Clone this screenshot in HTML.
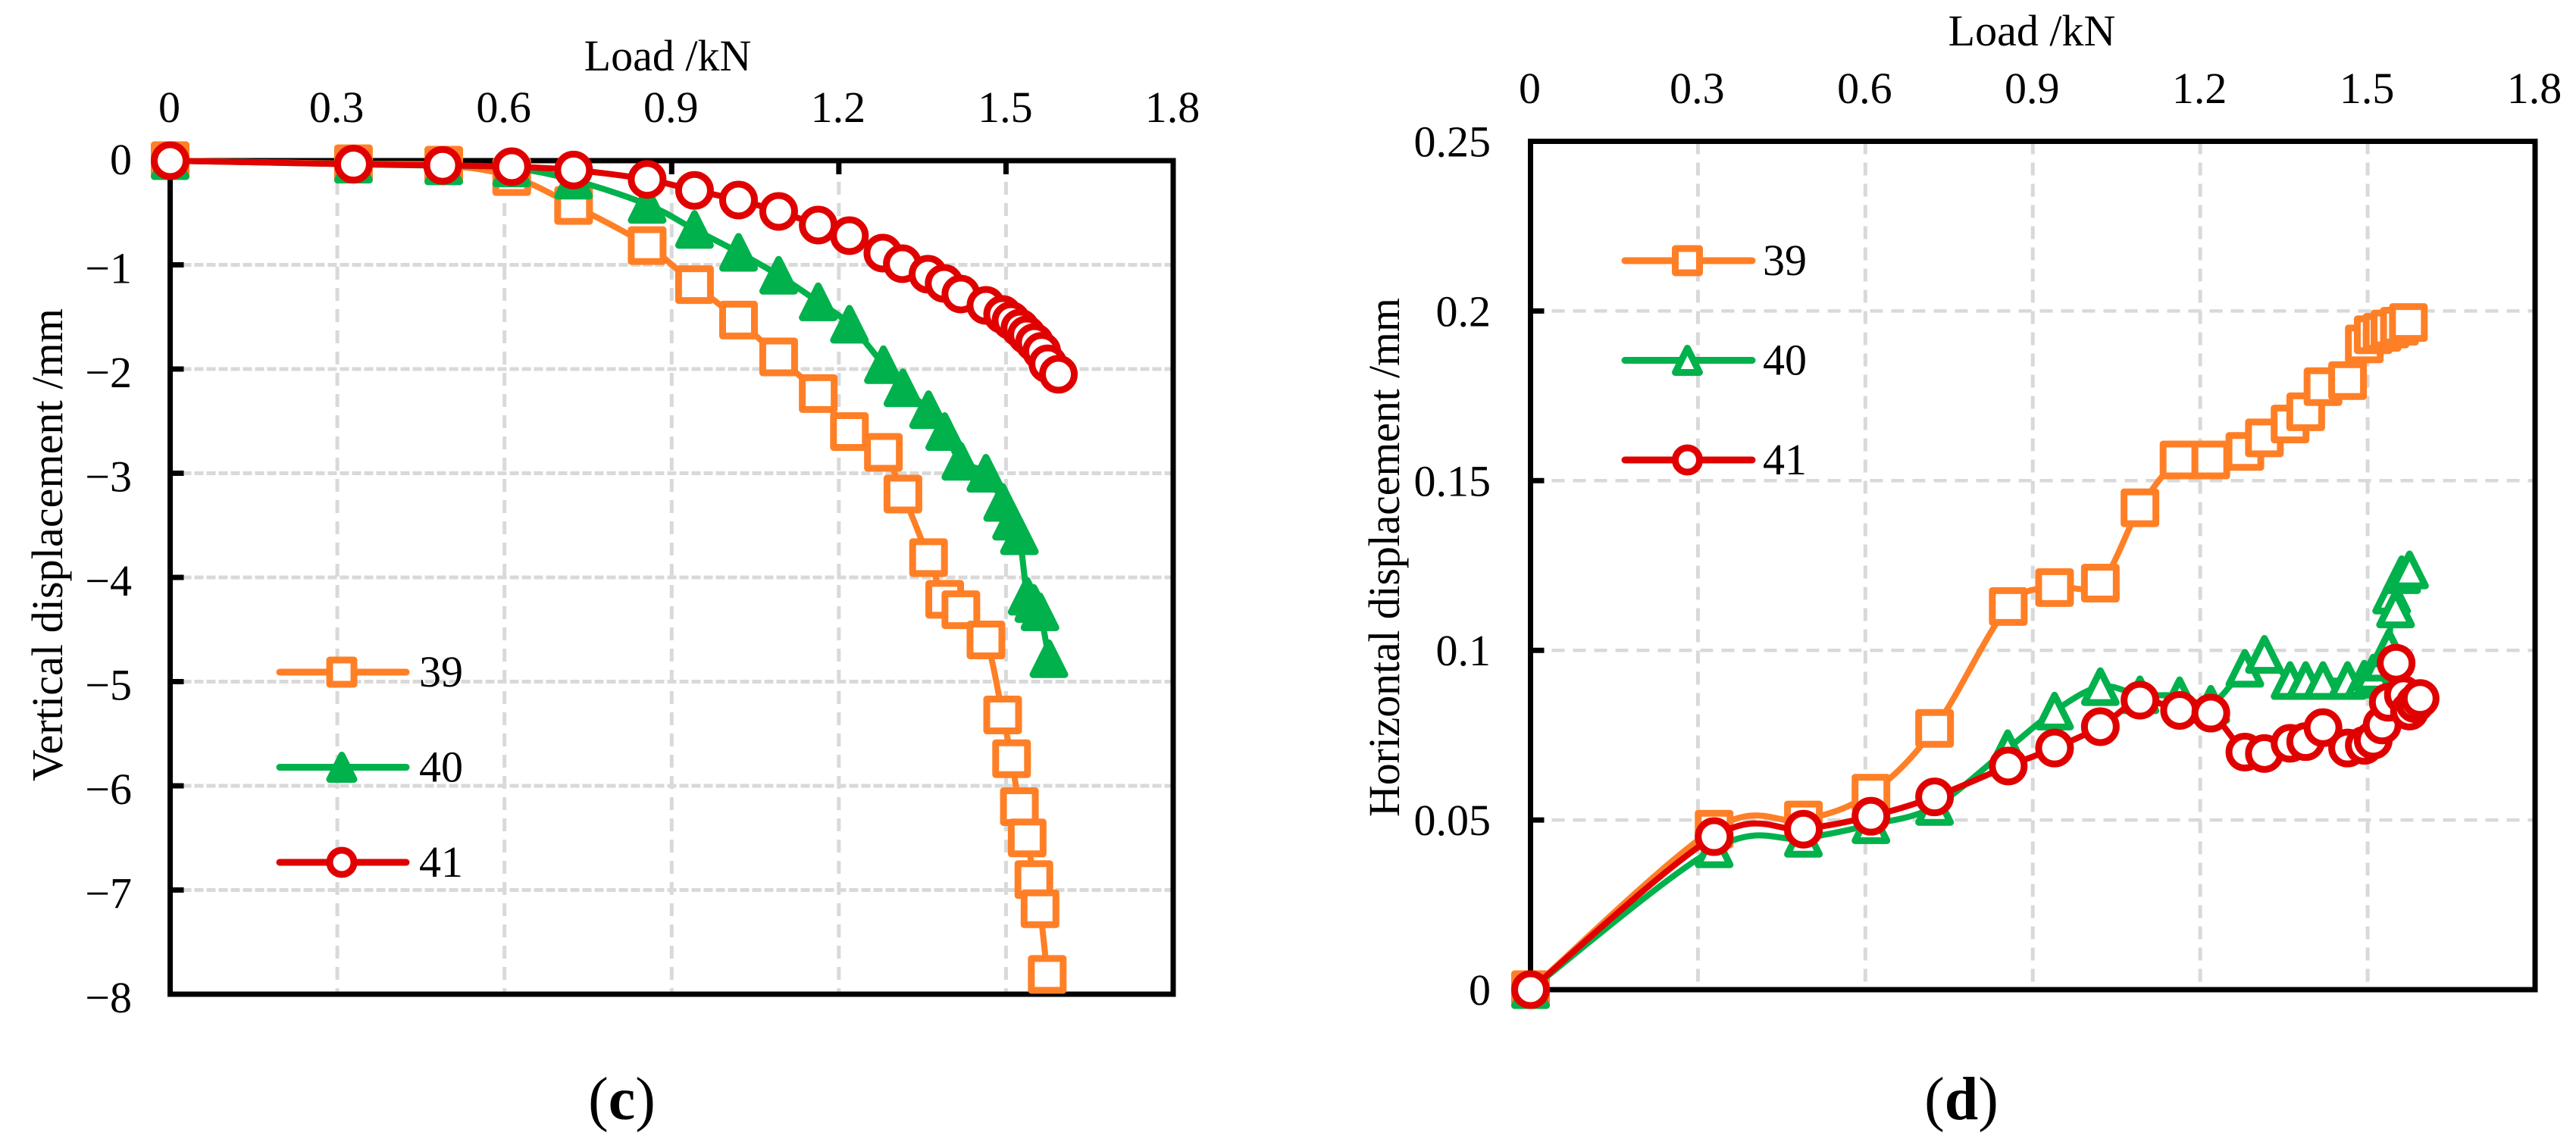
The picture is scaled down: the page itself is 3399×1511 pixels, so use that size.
<!DOCTYPE html>
<html lang="en">
<head>
<meta charset="utf-8">
<title>Load versus displacement charts</title>
<style>
html,body{margin:0;padding:0;background:#fff;}
svg{display:block;}
text{font-family:"Liberation Serif",serif;fill:#000;}
</style>
</head>
<body>
<svg id="figure" xmlns="http://www.w3.org/2000/svg" width="3399" height="1511" viewBox="0 0 3399 1511">
<rect x="0" y="0" width="3399" height="1511" fill="#ffffff"/>
<g id="chart-c"></g>
<g id="chart-d"></g>
</svg>
<script>
// Shared axis data
const loadTicks = [0, 0.3, 0.6, 0.9, 1.2, 1.5, 1.8];
const loadTickLabels = ['0', '0.3', '0.6', '0.9', '1.2', '1.5', '1.8'];
const seriesLabels = ['39', '40', '41'];

// Chart (c) axis
const verticalTicks = [0, -1, -2, -3, -4, -5, -6, -7, -8];
const verticalTickLabels = ['0', '\u22121', '\u22122', '\u22123', '\u22124', '\u22125', '\u22126', '\u22127', '\u22128'];

// Chart (c) series
const cLoad39 = [0, .329, .491, .613, .724, .856, .941, 1.02, 1.092, 1.163, 1.219, 1.28, 1.315, 1.361, 1.39, 1.419, 1.464, 1.494, 1.51, 1.524, 1.538, 1.55, 1.561, 1.574];
const cDisp39 = [0, -.03, -.044, -.153, -.43, -.815, -1.19, -1.53, -1.884, -2.235, -2.6, -2.8, -3.2, -3.81, -4.21, -4.31, -4.6, -5.32, -5.74, -6.2, -6.5, -6.9, -7.18, -7.81];
const cLoad40 = [0, .329, .491, .613, .724, .856, .941, 1.02, 1.092, 1.163, 1.219, 1.28, 1.315, 1.361, 1.39, 1.419, 1.464, 1.494, 1.51, 1.524, 1.538, 1.55, 1.561, 1.577];
const cDisp40 = [0, -.034, -.05, -.07, -.187, -.42, -.66, -.88, -1.1, -1.355, -1.57, -1.958, -2.18, -2.39, -2.6, -2.885, -3, -3.28, -3.46, -3.6, -4.18, -4.25, -4.33, -4.78];
const cLoad41 = [0, .329, .489, .613, .724, .856, .941, 1.02, 1.092, 1.163, 1.219, 1.279, 1.314, 1.36, 1.389, 1.419, 1.464, 1.494, 1.509, 1.525, 1.537, 1.551, 1.564, 1.575, 1.594];
const cDisp41 = [0, -.034, -.045, -.058, -.09, -.18, -.285, -.378, -.487, -.618, -.72, -.887, -.989, -1.09, -1.178, -1.28, -1.389, -1.476, -1.535, -1.607, -1.673, -1.745, -1.83, -1.95, -2.05];

// Chart (d) axis
const horizontalTicks = [0, 0.05, 0.1, 0.15, 0.2, 0.25];
const horizontalTickLabels = ['0', '0.05', '0.1', '0.15', '0.2', '0.25'];

// Chart (d) series
const dLoad39 = [0, .329, .489, .61, .724, .856, .939, 1.021, 1.092, 1.162, 1.219, 1.28, 1.315, 1.361, 1.389, 1.42, 1.464, 1.494, 1.51, 1.526, 1.54, 1.557, 1.573];
const dDisp39 = [0, .0473, .05, .0579, .077, .1129, .1185, .1198, .142, .1561, .1561, .1586, .1626, .1667, .1703, .1777, .1795, .1903, .193, .1937, .1947, .1955, .1966];
const dLoad40 = [0, .329, .489, .61, .724, .855, .939, 1.021, 1.092, 1.163, 1.219, 1.28, 1.315, 1.361, 1.389, 1.42, 1.464, 1.494, 1.51, 1.526, 1.538, 1.543, 1.55, 1.561, 1.575];
const dDisp40 = [0, .0415, .0446, .0486, .054, .071, .0821, .0893, .0869, .0866, .0841, .0947, .0988, .0911, .0911, .0911, .0911, .0915, .0933, .0965, .1007, .1163, .1122, .1223, .1237];
const dLoad41 = [0, .329, .489, .61, .724, .856, .939, 1.021, 1.092, 1.163, 1.219, 1.28, 1.315, 1.361, 1.389, 1.42, 1.464, 1.494, 1.51, 1.526, 1.537, 1.551, 1.564, 1.575, 1.585, 1.594];
const dDisp41 = [0, .0451, .0473, .0511, .0568, .0659, .0712, .0775, .0853, .0823, .0815, .07, .0696, .0726, .0731, .0772, .0712, .072, .0735, .078, .0847, .0962, .0869, .0821, .0843, .0858];

const SVG_NS = 'http://www.w3.org/2000/svg';
const ORANGE = '#FF7F27';
const GREEN = '#00B14C';
const RED = '#E00000';
const GRID = '#D9D9D9';

function make(parent, tag, attrs) {
  const el = document.createElementNS(SVG_NS, tag);
  for (const k in attrs) el.setAttribute(k, attrs[k]);
  parent.appendChild(el);
  return el;
}

function linear(d0, d1, r0, r1) {
  return function (v) { return r0 + (v - d0) * (r1 - r0) / (d1 - d0); };
}

function smoothPath(pts) {
  let d = 'M' + pts[0][0].toFixed(1) + ' ' + pts[0][1].toFixed(1);
  for (let i = 0; i < pts.length - 1; i++) {
    const p0 = pts[Math.max(i - 1, 0)];
    const p1 = pts[i];
    const p2 = pts[i + 1];
    const p3 = pts[Math.min(i + 2, pts.length - 1)];
    const c1x = p1[0] + (p2[0] - p0[0]) / 6;
    const c1y = p1[1] + (p2[1] - p0[1]) / 6;
    const c2x = p2[0] - (p3[0] - p1[0]) / 6;
    const c2y = p2[1] - (p3[1] - p1[1]) / 6;
    d += 'C' + c1x.toFixed(1) + ' ' + c1y.toFixed(1) + ' ' + c2x.toFixed(1) + ' ' + c2y.toFixed(1) + ' ' + p2[0].toFixed(1) + ' ' + p2[1].toFixed(1);
  }
  return d;
}

function drawMarker(parent, shape, cx, cy, size, color, filled) {
  const s = size / 2;
  const fill = filled ? color : '#ffffff';
  let el;
  if (shape === 'square') {
    el = make(parent, 'rect', { x: cx - s, y: cy - s, width: size, height: size, fill: fill, stroke: color, 'stroke-width': 9, 'stroke-linejoin': 'round' });
    
    
  } else if (shape === 'triangle') {
    const pts = (cx - s) + ',' + (cy + s) + ' ' + (cx + s) + ',' + (cy + s) + ' ' + cx + ',' + (cy - s);
    el = make(parent, 'polygon', { points: pts, fill: fill, stroke: color, 'stroke-width': 9, 'stroke-linejoin': 'round' });
    
    
  } else {
    el = make(parent, 'circle', { cx: cx, cy: cy, r: s, fill: fill, stroke: color, 'stroke-width': 9 });
    
    
  }
}

function drawSeries(parent, name, loads, values, x, y, color, shape, filled) {
  const g = make(parent, 'g', {});
  
  
  const pts = loads.map(function (l, i) { return [x(l), y(values[i])]; });
  const line = make(g, 'path', { d: smoothPath(pts), fill: 'none', stroke: color, 'stroke-width': 8, 'stroke-linejoin': 'round', 'stroke-linecap': 'round' });
  
  
  pts.forEach(function (p) { drawMarker(g, shape, p[0], p[1], 42, color, filled); });
}

function drawLegendEntry(parent, label, x0, x1, xm, xt, y, color, shape, filled) {
  const g = make(parent, 'g', {});
  
  
  const line = make(g, 'line', { x1: x0, y1: y, x2: x1, y2: y, stroke: color, 'stroke-width': 9, 'stroke-linecap': 'round' });
  
  
  drawMarker(g, shape, xm, y, 32, color, filled);
  const t = make(g, 'text', { x: xt, y: y + 19, 'font-size': 58 });
  
  
  t.textContent = label;
}

function drawFrame(parent, cfg) {
  const x = cfg.x;
  const y = cfg.y;
  const gridV = make(parent, 'g', {});
  
  
  loadTicks.slice(1, -1).forEach(function (v) {
    const l = make(gridV, 'line', { x1: x(v), x2: x(v), y1: cfg.top, y2: cfg.bottom, stroke: GRID, 'stroke-width': 5, 'stroke-dasharray': '17 11' });
    
    
  });
  const gridH = make(parent, 'g', {});
  
  
  cfg.yTicks.forEach(function (v) {
    const py = y(v);
    if (Math.abs(py - cfg.top) < 2 || Math.abs(py - cfg.bottom) < 2) return;
    const l = make(gridH, 'line', { x1: cfg.left, x2: cfg.right, y1: py, y2: py, stroke: GRID, 'stroke-width': cfg.hGridWidth, 'stroke-dasharray': cfg.hGridDash });
    
    
    const t = make(parent, 'line', { x1: cfg.left, x2: cfg.left + 18, y1: py, y2: py, stroke: '#000', 'stroke-width': 7 });
    
    
  });
  if (cfg.topTicks) {
    loadTicks.slice(1, -1).forEach(function (v) {
      const t = make(parent, 'line', { x1: x(v), x2: x(v), y1: cfg.top, y2: cfg.top + 18, stroke: '#000', 'stroke-width': 7 });
      
      
    });
  }
  const frame = make(parent, 'rect', { x: cfg.left, y: cfg.top, width: cfg.right - cfg.left, height: cfg.bottom - cfg.top, fill: 'none', stroke: '#000', 'stroke-width': 7 });
  
  

  loadTicks.forEach(function (v, i) {
    const t = make(parent, 'text', { x: x(v) - 1, y: cfg.xLabelBase, 'font-size': 58, 'text-anchor': 'middle' });
    
    
    t.textContent = loadTickLabels[i];
  });
  cfg.yTicks.forEach(function (v, i) {
    const shift = v === 0 ? cfg.yLabelZeroShift : cfg.yLabelShift;
    const t = make(parent, 'text', { x: cfg.yLabelEnd, y: y(v) + shift, 'font-size': 58, 'text-anchor': 'end' });
    
    
    t.textContent = cfg.yTickLabels[i];
  });

  const xt = make(parent, 'text', { x: cfg.xTitleX, y: cfg.xTitleY, 'font-size': 58, 'text-anchor': 'middle' });
  
  
  xt.textContent = 'Load /kN';

  const yt = make(parent, 'text', { x: 0, y: 0, 'font-size': 58, 'text-anchor': 'middle', transform: 'translate(' + cfg.yTitleX + ' ' + cfg.yTitleY + ') rotate(-90)', textLength: cfg.yTitleLen, lengthAdjust: 'spacing' });
  
  
  yt.textContent = cfg.yTitle;

  const cap = make(parent, 'text', { x: cfg.capX, y: 1477, 'font-size': 80, 'text-anchor': 'middle' });
  
  
  const capOpen = make(cap, 'tspan', {});
  capOpen.textContent = '(';
  const capBold = make(cap, 'tspan', { 'font-weight': 'bold' });
  capBold.textContent = cfg.capLetter;
  const capClose = make(cap, 'tspan', {});
  capClose.textContent = ')';
}

// Chart (c)
(function () {
  const root = document.getElementById('chart-c');
  const left = 224.5, right = 1548, top = 212, bottom = 1312;
  const x = linear(0, 1.8, left, right);
  const y = linear(0, -8, top, bottom);
  drawFrame(root, {
    x: x, y: y, left: left, right: right, top: top, bottom: bottom, topTicks: true,
    yTicks: verticalTicks, yTickLabels: verticalTickLabels,
    hGridDash: '12 4', hGridWidth: 5,
    xLabelBase: 161, yLabelEnd: 174, yLabelShift: 24, yLabelZeroShift: 18,
    xTitleX: 881, xTitleY: 93,
    yTitle: 'Vertical displacement /mm', yTitleX: 82, yTitleY: 719, yTitleLen: 624,
    capX: 820.5, capLetter: 'c'
  });
  drawSeries(root, 'series-39', cLoad39, cDisp39, x, y, ORANGE, 'square', false);
  drawSeries(root, 'series-40', cLoad40, cDisp40, x, y, GREEN, 'triangle', true);
  drawSeries(root, 'series-41', cLoad41, cDisp41, x, y, RED, 'circle', false);
  const legend = make(root, 'g', {});
  
  
  drawLegendEntry(legend, seriesLabels[0], 369, 536, 451, 553, 887, ORANGE, 'square', false);
  drawLegendEntry(legend, seriesLabels[1], 369, 536, 451, 553, 1012.5, GREEN, 'triangle', true);
  drawLegendEntry(legend, seriesLabels[2], 369, 536, 451, 553, 1138, RED, 'circle', false);
})();

// Chart (d)
(function () {
  const root = document.getElementById('chart-d');
  const left = 2019.5, right = 3345, top = 186.5, bottom = 1306;
  const x = linear(0, 1.8, left, right);
  const y = linear(0, 0.25, bottom, top);
  drawFrame(root, {
    x: x, y: y, left: left, right: right, top: top, bottom: bottom, topTicks: false,
    yTicks: horizontalTicks, yTickLabels: horizontalTickLabels,
    hGridDash: '17 11', hGridWidth: 4.5,
    xLabelBase: 136, yLabelEnd: 1967, yLabelShift: 20, yLabelZeroShift: 20,
    xTitleX: 2681, xTitleY: 60,
    yTitle: 'Horizontal displacement /mm', yTitleX: 1846, yTitleY: 735.5, yTitleLen: 685,
    capX: 2588, capLetter: 'd'
  });
  drawSeries(root, 'series-39', dLoad39, dDisp39, x, y, ORANGE, 'square', false);
  drawSeries(root, 'series-40', dLoad40, dDisp40, x, y, GREEN, 'triangle', false);
  drawSeries(root, 'series-41', dLoad41, dDisp41, x, y, RED, 'circle', false);
  const legend = make(root, 'g', {});
  
  
  drawLegendEntry(legend, seriesLabels[0], 2144, 2312, 2226.5, 2326, 344, ORANGE, 'square', false);
  drawLegendEntry(legend, seriesLabels[1], 2144, 2312, 2226.5, 2326, 475.5, GREEN, 'triangle', false);
  drawLegendEntry(legend, seriesLabels[2], 2144, 2312, 2226.5, 2326, 607, RED, 'circle', false);
})();
</script>
</body>
</html>
